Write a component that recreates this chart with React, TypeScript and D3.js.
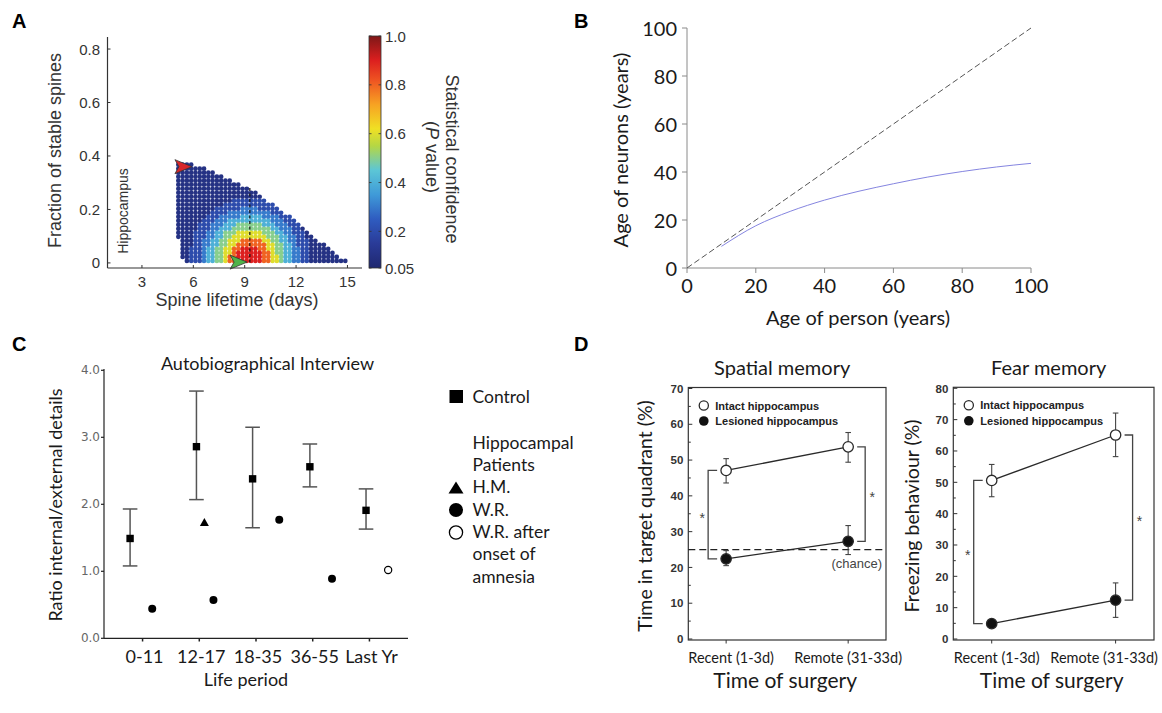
import React from 'react';
import * as d3 from 'd3';

const W = 1162;
const H = 713;
const ARIAL = '"Liberation Sans", Arial, Helvetica, sans-serif';
const CALIBRI = 'Lato, "Open Sans", "Noto Sans", sans-serif';
const DEJAVU = '"DejaVu Sans", sans-serif';

// ---------------- Panel A data ----------------
const lifetimeTicks = [3, 6, 9, 12, 15];
const fractionTicks = [0, 0.2, 0.4, 0.6, 0.8];
const fractionTickLabels = ['0', '0.2', '0.4', '0.6', '0.8'];
const pValueTicks = [0.05, 0.2, 0.4, 0.6, 0.8, 1.0];
const pValueTickLabels = ['0.05', '0.2', '0.4', '0.6', '0.8', '1.0'];
// grid of simulated spine populations: column = lifetime bin, row = stable fraction bin
const gridLifetimeStart = 5.125;
const gridLifetimeStep = 0.25;
const gridFractionStart = 0.0075;
const gridFractionStep = 0.015;
// each digit = P value x 10 read from the colour of the cloud, '.' = no point
const spinePValueRows = [
  '..12223445568899999988665443322111111111',
  '.1122234455688999999886654433221111111',
  '.112223445566899999988655443322111111',
  '.11222344556688999988665544332211111',
  '.1112233445566888888866554432221111',
  '.11122334455666888886655443322211',
  '11112223344556666666655544332211',
  '1111222334455566666655544332221',
  '111112223344455555555544333221',
  '11111222333444555555444333222',
  '1111112223334444444444333222',
  '111111122233333444443333222',
  '1111111122223333333333222',
  '111111111222222333322222',
  '11111111111222222222222',
  '111111111111122222222',
  '11111111111111111111',
  '1111111111111111111',
  '11111111111111111',
  '111111111111111',
  '1111111111111',
  '11111111111',
  '111111111',
  '1111111',
  '1111',
];
const redMarker = { lifetime: 5.92, fraction: 0.36 };
const greenMarker = { lifetime: 9.14, fraction: 0.003 };
const dashedLifetime = 9.3;
const dashedTop = 0.28;

// ---------------- Panel B data ----------------
const ageTicks = [0, 20, 40, 60, 80, 100];
const identityAges = [0, 100];
const personAge = [10, 20, 30, 40, 50, 60, 70, 80, 90, 100];
const neuronAge = [9, 17.6, 23.6, 28.3, 32, 35.1, 37.9, 40.2, 42.1, 43.6];

// ---------------- Panel C data ----------------
const lifePeriods = ['0-11', '12-17', '18-35', '36-55', 'Last Yr'];
const ratioTicks = [0, 1, 2, 3, 4];
const ratioTickLabels = ['0.0', '1.0', '2.0', '3.0', '4.0'];
const controlMean = [1.49, 2.86, 2.38, 2.56, 1.91];
const controlHigh = [1.93, 3.69, 3.15, 2.9, 2.23];
const controlLow = [1.08, 2.07, 1.65, 2.26, 1.63];
const controlShift = [-0.22, -0.05, -0.06, -0.05, -0.06];
const wrValues = [0.44, 0.57, 1.77, 0.89, null];
const wrShift = [0.17, 0.25, 0.41, 0.34, 0];
const hmValues = [null, 1.73, null, null, null];
const hmShift = [0, 0.09, 0, 0, 0];
const wrAfterValues = [null, null, null, null, 1.02];
const wrAfterShift = [0, 0, 0, 0, 0.33];

// ---------------- Panel D data ----------------
const surgeryTimes = ['Recent (1-3d)', 'Remote (31-33d)'];
const spatialIntact = [47.1, 53.7];
const spatialIntactLow = [43.6, 49.4];
const spatialIntactHigh = [50.4, 57.7];
const spatialLesioned = [22.4, 27.3];
const spatialLesionedLow = [20.5, 23.6];
const spatialLesionedHigh = [24.7, 31.7];
const chanceLevel = 25;
const spatialTicks = [0, 10, 20, 30, 40, 50, 60, 70];
const fearIntact = [50.6, 65.1];
const fearIntactLow = [45.4, 58.2];
const fearIntactHigh = [55.7, 72.1];
const fearLesioned = [4.9, 12.4];
const fearLesionedLow = [4.3, 6.9];
const fearLesionedHigh = [5.5, 17.9];
const fearTicks = [0, 10, 20, 30, 40, 50, 60, 70, 80];

const pColorDomain = [0.05, 0.15, 0.25, 0.35, 0.45, 0.55, 0.62, 0.72, 0.82, 0.9, 1.0];
const pColorRange = ['#1f2870', '#2a3b98', '#2f5cc0', '#3f9ad8', '#5cc6d6', '#b5d744', '#f0e024', '#f7a223', '#ee5322', '#dc1f1f', '#7e1717'];

function PanelA() {
  const xA = d3.scaleLinear().domain([1, 15.85]).range([107.7, 362]);
  const yA = d3.scaleLinear().domain([-0.019, 0.845]).range([268, 37]);
  const pColor = d3.scaleLinear<string>().domain(pColorDomain).range(pColorRange).interpolate(d3.interpolateRgb);
  const cbY = d3.scaleLinear().domain([0.05, 1]).range([268, 36]);
  const dots: { x: number; y: number; p: number }[] = [];
  spinePValueRows.forEach((row, i) => {
    for (let j = 0; j < row.length; j++) {
      const c = row[j];
      if (c === '.') continue;
      dots.push({ x: gridLifetimeStart + j * gridLifetimeStep, y: gridFractionStart + i * gridFractionStep, p: +c / 10 });
    }
  });
  dots.sort((a, b) => a.p - b.p);
  const dart = (tx: number, ty: number) =>
    `${tx},${ty} ${tx - 17},${ty - 7} ${tx - 13},${ty} ${tx - 17},${ty + 7}`;
  const ax = 107.5;
  const ay = 268;
  return (
    <g>
      <defs>
        <linearGradient id="pgrad" x1="0" y1="1" x2="0" y2="0">
          {pColorDomain.map((p, k) => (
            <stop key={k} offset={(p - 0.05) / 0.95} stopColor={pColorRange[k]} />
          ))}
        </linearGradient>
      </defs>
      {dots.map((d, k) => (
        <circle key={k} cx={xA(d.x)} cy={yA(d.y)} r={2.35} fill={pColor(d.p)} />
      ))}
      <line x1={xA(dashedLifetime)} x2={xA(dashedLifetime)} y1={yA(dashedTop)} y2={yA(0)} stroke="#111" strokeWidth={1.2} strokeDasharray="3,2.5" />
      <polygon points={dart(xA(redMarker.lifetime), yA(redMarker.fraction))} fill="#d8262a" stroke="#333" strokeWidth={0.8} />
      <polygon points={dart(xA(greenMarker.lifetime), yA(greenMarker.fraction))} fill="#4fb34a" stroke="#333" strokeWidth={0.8} />
      {/* axes */}
      <line x1={ax} x2={ax} y1={37} y2={ay} stroke="#333" strokeWidth={1.2} />
      <line x1={ax} x2={362} y1={ay} y2={ay} stroke="#333" strokeWidth={1.2} />
      {fractionTicks.map((t, k) => (
        <g key={k}>
          <line x1={ax} x2={ax + 3} y1={yA(t)} y2={yA(t)} stroke="#333" />
          <text x={100} y={yA(t) + 5.5} textAnchor="end" fontFamily={ARIAL} fontSize={15} fill="#333">
            {fractionTickLabels[k]}
          </text>
        </g>
      ))}
      {lifetimeTicks.map((t, k) => (
        <g key={k}>
          <line x1={xA(t)} x2={xA(t)} y1={ay} y2={ay - 3} stroke="#333" />
          <text x={xA(t)} y={287} textAnchor="middle" fontFamily={ARIAL} fontSize={15} fill="#333">
            {t}
          </text>
        </g>
      ))}
      <text x={237} y={306} textAnchor="middle" fontFamily={ARIAL} fontSize={18} fill="#333">
        Spine lifetime (days)
      </text>
      <text transform="translate(61,150.5) rotate(-90)" textAnchor="middle" fontFamily={ARIAL} fontSize={18} fill="#333">
        Fraction of stable spines
      </text>
      <text transform="translate(128,211) rotate(-90)" textAnchor="middle" fontFamily={ARIAL} fontSize={14} fill="#333">
        Hippocampus
      </text>
      {/* colorbar */}
      <rect x={369} y={cbY(1)} width={12} height={cbY(0.05) - cbY(1)} fill="url(#pgrad)" stroke="#333" strokeWidth={0.8} />
      {pValueTicks.map((t, k) => (
        <g key={k}>
          <line x1={369} x2={371.5} y1={cbY(t)} y2={cbY(t)} stroke="#333" strokeWidth={0.8} />
          <line x1={381} x2={378.5} y1={cbY(t)} y2={cbY(t)} stroke="#333" strokeWidth={0.8} />
          <text x={385} y={cbY(t) + 5.5} fontFamily={ARIAL} fontSize={15} fill="#333">
            {pValueTickLabels[k]}
          </text>
        </g>
      ))}
      <text transform="translate(446,159) rotate(90)" textAnchor="middle" fontFamily={ARIAL} fontSize={18} fill="#333">
        Statistical confidence
      </text>
      <text transform="translate(426,157) rotate(90)" textAnchor="middle" fontFamily={ARIAL} fontSize={18} fill="#333">
        (<tspan fontStyle="italic">P</tspan> value)
      </text>
    </g>
  );
}

function PanelB() {
  const xB = d3.scaleLinear().domain([0, 100]).range([687, 1031]);
  const yB = d3.scaleLinear().domain([0, 100]).range([268, 28]);
  const line = d3
    .line<number>()
    .x((_, i) => xB(personAge[i]))
    .y((d) => yB(d))
    .curve(d3.curveMonotoneX);
  const idLine = d3
    .line<number>()
    .x((d) => xB(d))
    .y((d) => yB(d));
  const axisC = '#8a8a8a';
  return (
    <g>
      <line x1={xB(0)} x2={xB(100)} y1={yB(0)} y2={yB(0)} stroke={axisC} />
      <line x1={xB(0)} x2={xB(0)} y1={yB(0)} y2={yB(100)} stroke={axisC} />
      {ageTicks.map((t) => (
        <g key={t}>
          <line x1={xB(t)} x2={xB(t)} y1={yB(0)} y2={yB(0) + 5} stroke={axisC} />
          <line x1={xB(0)} x2={xB(0) - 5} y1={yB(t)} y2={yB(t)} stroke={axisC} />
          <text x={xB(t)} y={293} textAnchor="middle" fontFamily={CALIBRI} fontSize={20} fill="#1a1a1a">
            {t}
          </text>
          <text x={677} y={yB(t) + 8} textAnchor="end" fontFamily={CALIBRI} fontSize={20} fill="#1a1a1a">
            {t}
          </text>
        </g>
      ))}
      <path d={idLine(identityAges) || ''} fill="none" stroke="#555" strokeWidth={1} strokeDasharray="6,3" />
      <path d={line(neuronAge) || ''} fill="none" stroke="#8585e0" strokeWidth={1} />
      <text x={858} y={325} textAnchor="middle" fontFamily={CALIBRI} fontSize={20} fill="#1a1a1a">
        Age of person (years)
      </text>
      <text transform="translate(628,150) rotate(-90)" textAnchor="middle" fontFamily={CALIBRI} fontSize={20} fill="#1a1a1a">
        Age of neurons (years)
      </text>
    </g>
  );
}

function PanelC() {
  const xC = d3.scalePoint<string>().domain(lifePeriods).range([104, 408]).padding(0.68);
  const yC = d3.scaleLinear().domain([0, 4]).range([638.3, 370.3]);
  const step = xC.step();
  const px = (k: number, shift: number) => (xC(lifePeriods[k]) as number) + shift * step;
  const barC = '#555';
  return (
    <g>
      <text x={267.5} y={370} textAnchor="middle" fontFamily={CALIBRI} fontSize={18} fill="#1a1a1a">
        Autobiographical Interview
      </text>
      <line x1={104} x2={104} y1={369} y2={638.3} stroke="#222" strokeWidth={1.2} />
      <line x1={104} x2={408} y1={638.3} y2={638.3} stroke="#222" strokeWidth={1.2} />
      {ratioTicks.map((t, k) => (
        <g key={t}>
          <line x1={104} x2={101} y1={yC(t)} y2={yC(t)} stroke="#222" strokeWidth={1.2} />
          <text x={100} y={yC(t) + 4} textAnchor="end" fontFamily={DEJAVU} fontSize={12} fill="#666">
            {ratioTickLabels[k]}
          </text>
        </g>
      ))}
      {lifePeriods.map((c) => (
        <g key={c}>
          <line x1={xC(c) as number} x2={xC(c) as number} y1={638.3} y2={641.5} stroke="#222" strokeWidth={1.5} />
          <text x={(xC(c) as number) + 2} y={663} textAnchor="middle" fontFamily={CALIBRI} fontSize={18} fill="#1a1a1a">
            {c}
          </text>
        </g>
      ))}
      <text x={246} y={686} textAnchor="middle" fontFamily={CALIBRI} fontSize={18} fill="#1a1a1a">
        Life period
      </text>
      <text transform="translate(62,505) rotate(-90)" textAnchor="middle" fontFamily={CALIBRI} fontSize={18} fill="#1a1a1a">
        Ratio internal/external details
      </text>
      {controlMean.map((m, k) => {
        const x = px(k, controlShift[k]);
        return (
          <g key={k}>
            <line x1={x} x2={x} y1={yC(controlLow[k])} y2={yC(controlHigh[k])} stroke={barC} strokeWidth={1.5} />
            <line x1={x - 7.3} x2={x + 7.3} y1={yC(controlLow[k])} y2={yC(controlLow[k])} stroke={barC} strokeWidth={1.5} />
            <line x1={x - 7.3} x2={x + 7.3} y1={yC(controlHigh[k])} y2={yC(controlHigh[k])} stroke={barC} strokeWidth={1.5} />
            <rect x={x - 3.7} y={yC(m) - 3.7} width={7.4} height={7.4} fill="#000" />
          </g>
        );
      })}
      {wrValues.map((v, k) =>
        v == null ? null : <circle key={'wr' + k} cx={px(k, wrShift[k])} cy={yC(v)} r={4} fill="#000" />
      )}
      {hmValues.map((v, k) => {
        if (v == null) return null;
        const x = px(k, hmShift[k]);
        const y = yC(v);
        return <polygon key={'hm' + k} points={`${x},${y - 4.5} ${x + 4.5},${y + 3.5} ${x - 4.5},${y + 3.5}`} fill="#000" />;
      })}
      {wrAfterValues.map((v, k) =>
        v == null ? null : (
          <circle key={'wa' + k} cx={px(k, wrAfterShift[k])} cy={yC(v)} r={3.6} fill="#fff" stroke="#000" strokeWidth={1.2} />
        )
      )}
      {/* legend */}
      <rect x={449.5} y={390} width={13.5} height={13} fill="#000" />
      <text x={472.5} y={403} fontFamily={CALIBRI} fontSize={17.5} fill="#1a1a1a">Control</text>
      <text x={472.5} y={448.7} fontFamily={CALIBRI} fontSize={17.5} fill="#1a1a1a">Hippocampal</text>
      <text x={472.5} y={471} fontFamily={CALIBRI} fontSize={17.5} fill="#1a1a1a">Patients</text>
      <polygon points="456,481.5 463.5,493.5 448.5,493.5" fill="#000" />
      <text x={472.5} y={493.3} fontFamily={CALIBRI} fontSize={17.5} fill="#1a1a1a">H.M.</text>
      <circle cx={456} cy={510} r={7} fill="#000" />
      <text x={472.5} y={515.7} fontFamily={CALIBRI} fontSize={17.5} fill="#1a1a1a">W.R.</text>
      <circle cx={456} cy={532.5} r={6.6} fill="#fff" stroke="#000" strokeWidth={1.3} />
      <text x={472.5} y={538} fontFamily={CALIBRI} fontSize={17.5} fill="#1a1a1a">W.R. after</text>
      <text x={472.5} y={560.3} fontFamily={CALIBRI} fontSize={17.5} fill="#1a1a1a">onset of</text>
      <text x={472.5} y={582.6} fontFamily={CALIBRI} fontSize={17.5} fill="#1a1a1a">amnesia</text>
    </g>
  );
}

type MemProps = {
  title: string;
  yTitle: string;
  yMax: number;
  ticks: number[];
  box: { l: number; r: number; t: number; b: number };
  intact: number[];
  intactLow: number[];
  intactHigh: number[];
  lesioned: number[];
  lesionedLow: number[];
  lesionedHigh: number[];
  chance?: number;
  yTitleX: number;
};

function MemoryPanel(props: MemProps) {
  const { title, yTitle, yMax, ticks, box, intact, intactLow, intactHigh, lesioned, lesionedLow, lesionedHigh, chance, yTitleX } = props;
  const x = d3.scalePoint<string>().domain(surgeryTimes).range([box.l, box.r]).padding(0.31);
  const y = d3.scaleLinear().domain([0, yMax]).range([box.b - 1, box.t + 1]);
  const xs = surgeryTimes.map((s) => x(s) as number);
  const line = d3
    .line<number>()
    .x((_, i) => xs[i])
    .y((d) => y(d));
  const minor: number[] = [];
  for (let k = 0; k < ticks.length - 1; k++) minor.push((ticks[k] + ticks[k + 1]) / 2);
  const ink = '#2a2a2a';
  const cx = (box.l + box.r) / 2;
  const lb = xs[0] - 18;
  const rb = xs[1] + 17;
  const series = [
    { v: intact, lo: intactLow, hi: intactHigh, fill: '#fff' },
    { v: lesioned, lo: lesionedLow, hi: lesionedHigh, fill: '#111' },
  ];
  return (
    <g>
      <text x={cx - 5} y={375} textAnchor="middle" fontFamily={CALIBRI} fontSize={20} fill="#1a1a1a">
        {title}
      </text>
      <rect x={box.l} y={box.t} width={box.r - box.l} height={box.b - box.t} fill="none" stroke="#333" strokeWidth={1.2} />
      {ticks.map((t) => (
        <g key={t}>
          <line x1={box.l} x2={box.l + 4} y1={y(t)} y2={y(t)} stroke="#333" />
          <text x={box.l - 5} y={y(t) + 4.2} textAnchor="end" fontFamily={ARIAL} fontWeight="bold" fontSize={11.5} fill="#333">
            {t}
          </text>
        </g>
      ))}
      {minor.map((t) => (
        <line key={t} x1={box.l} x2={box.l + 2.5} y1={y(t)} y2={y(t)} stroke="#333" />
      ))}
      {xs.map((xx, i) => {
        const tooWide = xx + 48 > W - 4;
        return (
          <g key={i}>
            <line x1={xx} x2={xx} y1={box.b} y2={box.b + 3.5} stroke="#333" />
            <text
              x={tooWide ? W - 4 : xx + (i === 0 ? 5 : 0)}
              y={663}
              textAnchor={tooWide ? 'end' : 'middle'}
              fontFamily={CALIBRI}
              fontSize={14.5}
              fill="#1a1a1a"
            >
              {surgeryTimes[i]}
            </text>
          </g>
        );
      })}
      <text x={cx - 2} y={688} textAnchor="middle" fontFamily={CALIBRI} fontSize={21} fill="#1a1a1a">
        Time of surgery
      </text>
      <text transform={`translate(${yTitleX},516) rotate(-90)`} textAnchor="middle" fontFamily={CALIBRI} fontSize={19.5} fill="#1a1a1a">
        {yTitle}
      </text>
      {chance != null && (
        <g>
          <line x1={box.l} x2={box.r} y1={y(chance)} y2={y(chance)} stroke="#222" strokeWidth={1.3} strokeDasharray="7,4" />
          <text x={box.r - 4} y={y(chance) + 18} textAnchor="end" fontFamily={ARIAL} fontSize={13} fill="#444">
            (chance)
          </text>
        </g>
      )}
      {/* significance brackets */}
      <path
        d={`M${xs[0] - 9},${y(intact[0])} H${lb} V${y(lesioned[0])} H${xs[0] - 9}`}
        fill="none"
        stroke="#444"
        strokeWidth={1.3}
      />
      <text x={lb - 6} y={(y(intact[0]) + y(lesioned[0])) / 2 + 8} textAnchor="middle" fontFamily={ARIAL} fontSize={14} fill="#444">
        *
      </text>
      <path
        d={`M${xs[1] + 9},${y(intact[1])} H${rb} V${y(lesioned[1])} H${xs[1] + 9}`}
        fill="none"
        stroke="#444"
        strokeWidth={1.3}
      />
      <text x={rb + 7} y={(y(intact[1]) + y(lesioned[1])) / 2 + 8} textAnchor="middle" fontFamily={ARIAL} fontSize={14} fill="#444">
        *
      </text>
      {series.map((s, si) => (
        <g key={si}>
          <path d={line(s.v) || ''} fill="none" stroke={ink} strokeWidth={1.3} />
          {s.v.map((v, i) => (
            <g key={i}>
              <line x1={xs[i]} x2={xs[i]} y1={y(s.lo[i])} y2={y(s.hi[i])} stroke="#444" strokeWidth={1.1} />
              <line x1={xs[i] - 2.8} x2={xs[i] + 2.8} y1={y(s.lo[i])} y2={y(s.lo[i])} stroke="#444" strokeWidth={1.1} />
              <line x1={xs[i] - 2.8} x2={xs[i] + 2.8} y1={y(s.hi[i])} y2={y(s.hi[i])} stroke="#444" strokeWidth={1.1} />
              <circle cx={xs[i]} cy={y(v)} r={5.2} fill={s.fill} stroke={ink} strokeWidth={1.3} />
            </g>
          ))}
        </g>
      ))}
      {/* inner legend */}
      <circle cx={box.l + 15.5} cy={box.t + 18} r={4.6} fill="#fff" stroke={ink} strokeWidth={1.3} />
      <text x={box.l + 27} y={box.t + 22} fontFamily={ARIAL} fontWeight="bold" fontSize={11} fill="#222">
        Intact hippocampus
      </text>
      <circle cx={box.l + 15.5} cy={box.t + 33.5} r={4.8} fill="#111" />
      <text x={box.l + 27} y={box.t + 37.5} fontFamily={ARIAL} fontWeight="bold" fontSize={11} fill="#222">
        Lesioned hippocampus
      </text>
    </g>
  );
}

export default function App() {
  const label = (t: string, x: number, y: number) => (
    <text x={x} y={y} fontFamily={ARIAL} fontWeight="bold" fontSize={20} fill="#000">
      {t}
    </text>
  );
  return (
    <svg width={W} height={H} viewBox={`0 0 ${W} ${H}`} style={{ position: 'absolute', left: 0, top: 0, background: '#fff' }}>
      <rect x={0} y={0} width={W} height={H} fill="#fff" />
      {label('A', 12, 28)}
      {label('B', 574, 28)}
      {label('C', 12, 351)}
      {label('D', 574, 351)}
      <PanelA />
      <PanelB />
      <PanelC />
      <MemoryPanel
        title="Spatial memory"
        yTitle="Time in target quadrant (%)"
        yMax={70}
        ticks={spatialTicks}
        box={{ l: 688.3, r: 886, t: 387.5, b: 640 }}
        intact={spatialIntact}
        intactLow={spatialIntactLow}
        intactHigh={spatialIntactHigh}
        lesioned={spatialLesioned}
        lesionedLow={spatialLesionedLow}
        lesionedHigh={spatialLesionedHigh}
        chance={chanceLevel}
        yTitleX={652}
      />
      <MemoryPanel
        title="Fear memory"
        yTitle="Freezing behaviour (%)"
        yMax={80}
        ticks={fearTicks}
        box={{ l: 953.3, r: 1154, t: 387.3, b: 640 }}
        intact={fearIntact}
        intactLow={fearIntactLow}
        intactHigh={fearIntactHigh}
        lesioned={fearLesioned}
        lesionedLow={fearLesionedLow}
        lesionedHigh={fearLesionedHigh}
        yTitleX={919}
      />
    </svg>
  );
}
